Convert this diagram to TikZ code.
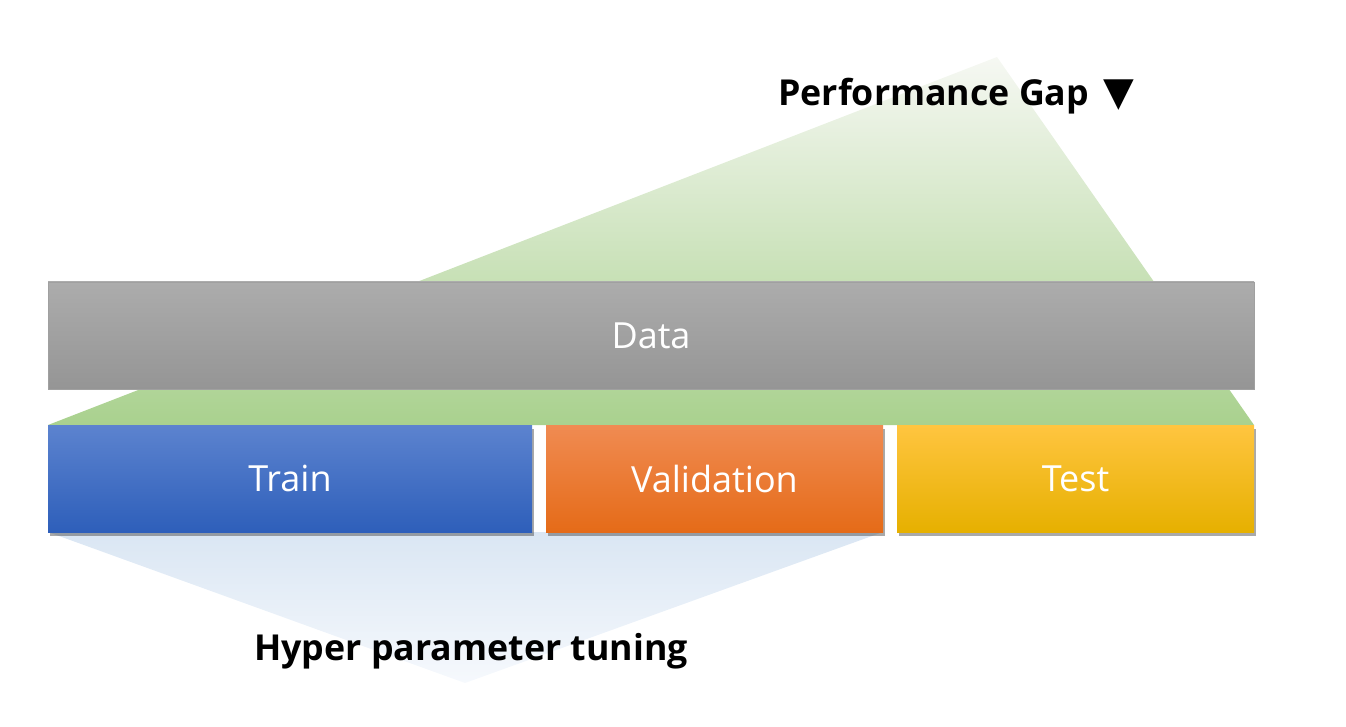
\documentclass[tikz,border=0pt]{standalone}
\usepackage{fontspec}
\setmainfont{Open Sans}
\newfontfamily\symfont{DejaVu Sans}
\usetikzlibrary{shadows}
\definecolor{grtop}{RGB}{246,248,243}
\definecolor{grbot}{RGB}{169,209,142}
\definecolor{bltop}{RGB}{218,230,243}
\definecolor{blbot}{RGB}{246,249,253}
\definecolor{datatop}{RGB}{172,172,172}
\definecolor{databot}{RGB}{149,149,149}
\definecolor{trtop}{RGB}{92,131,207}
\definecolor{trmid}{RGB}{66,114,203}
\definecolor{trbot}{RGB}{46,95,186}
\definecolor{vatop}{RGB}{240,139,82}
\definecolor{vamid}{RGB}{244,124,40}
\definecolor{vabot}{RGB}{229,107,24}
\definecolor{tetop}{RGB}{255,197,64}
\definecolor{temid}{RGB}{255,194,0}
\definecolor{tebot}{RGB}{230,176,0}
\tikzset{
  barbox/.style={rectangle, inner sep=0pt, minimum height=80.25pt, text=white,
    font=\fontsize{27}{30}\selectfont},
  shadowed/.style={drop shadow={shadow xshift=1.5pt, shadow yshift=-3pt, opacity=0.45, fill=black!75}},
  biglabel/.style={font=\bfseries\fontsize{26.8}{30}\selectfont, text=black, inner sep=0pt}
}
\begin{document}
\begin{tikzpicture}[x=0.75pt,y=-0.75pt]
\useasboundingbox (0,0) rectangle (1346,727);
% green performance-gap triangle
\path[top color=grtop, bottom color=grbot] (48,425) -- (997,57) -- (1254,425) -- cycle;
% data bar
\node[barbox, minimum width=904.5pt, top color=datatop, bottom color=databot,
      draw={rgb,255:red,160;green,160;blue,160}, line width=0.6pt] (data) at (651,335.5) {Data};
% blue tuning triangle
\path[top color=bltop, bottom color=blbot] (48,532) -- (883,532) -- (465,683) -- cycle;
% split boxes
\node[barbox, shadowed, minimum width=363pt, top color=trtop, middle color=trmid, bottom color=trbot] (train) at (290,478.5) {Train};
\node[barbox, shadowed, minimum width=252.75pt, top color=vatop, middle color=vamid, bottom color=vabot] (val) at (714.5,478.5) {Validation};
\node[barbox, shadowed, minimum width=267.75pt, top color=tetop, middle color=temid, bottom color=tebot] (test) at (1075.5,478.5) {Test};
% labels
\node[biglabel, anchor=base west] (gap) at (778,106) {Performance Gap\hspace{0.4em}{\symfont\fontsize{30}{32}\selectfont ▼}};
\node[biglabel, anchor=base west] (tune) at (254,660) {Hyper parameter tuning};
\end{tikzpicture}
\end{document}
